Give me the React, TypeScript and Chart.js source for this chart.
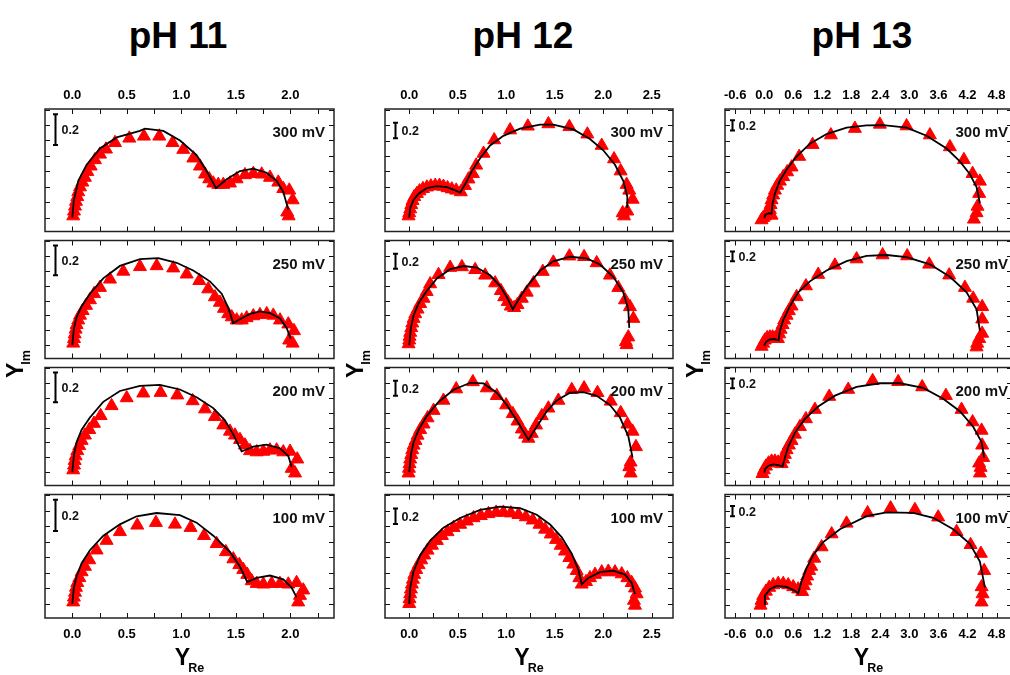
import React, { useEffect, useRef } from 'react';
import { Chart, registerables } from 'chart.js';

Chart.register(...registerables);

type Pt = [number, number];

// ---------------- DATA ----------------
const potentials = ['300 mV', '250 mV', '200 mV', '100 mV'];
const titles = ['pH 11', 'pH 12', 'pH 13'];

const xTicksPH11 = [0, 0.25, 0.5, 0.75, 1, 1.25, 1.5, 1.75, 2, 2.25];
const xLabelsPH11 = [0, 0.5, 1, 1.5, 2];
const xTicksPH12 = [0, 0.25, 0.5, 0.75, 1, 1.25, 1.5, 1.75, 2, 2.25, 2.5];
const xLabelsPH12 = [0, 0.5, 1, 1.5, 2, 2.5];
const xTicksPH13 = [-0.6, -0.3, 0, 0.3, 0.6, 0.9, 1.2, 1.5, 1.8, 2.1, 2.4, 2.7, 3.0, 3.3, 3.6, 3.9, 4.2, 4.5, 4.8, 5.1];
const xLabelsPH13 = [-0.6, 0, 0.6, 1.2, 1.8, 2.4, 3.0, 3.6, 4.2, 4.8];
const yTicksPH11 = [0, 0.1, 0.2, 0.3, 0.4, 0.5, 0.6, 0.7];
const yTicksPH12 = [0, 0.2, 0.4, 0.6, 0.8, 1.0, 1.2, 1.4];
const yTicksPH13 = [0, 0.3, 0.6, 0.9, 1.2, 1.5, 1.8, 2.1];
const scaleBar = 0.2;

// pH 11
const ph11_300_fit: Pt[] = [[0,0],[0.015,0.114],[0.055,0.239],[0.132,0.343],[0.254,0.448],[0.407,0.52],[0.62,0.562],[0.667,0.577],[0.835,0.562],[0.988,0.5],[1.14,0.406],[1.232,0.302],[1.318,0.191],[1.416,0.249],[1.538,0.302],[1.66,0.318],[1.782,0.291],[1.874,0.239],[1.935,0.166],[1.981,0.052]];
const ph11_300_meas: Pt[] = [[0.009,0.01],[0.016,0.041],[0.025,0.073],[0.034,0.104],[0.046,0.135],[0.055,0.166],[0.071,0.198],[0.092,0.229],[0.116,0.26],[0.138,0.298],[0.169,0.333],[0.208,0.374],[0.254,0.41],[0.309,0.443],[0.392,0.485],[0.523,0.514],[0.657,0.527],[0.798,0.527],[0.92,0.485],[1.018,0.441],[1.11,0.385],[1.171,0.333],[1.217,0.281],[1.256,0.25],[1.293,0.223],[1.339,0.214],[1.385,0.214],[1.446,0.223],[1.507,0.25],[1.584,0.277],[1.66,0.285],[1.737,0.281],[1.813,0.26],[1.889,0.229],[1.935,0.187],[1.99,0.177],[2.021,0.114],[1.971,0.035],[1.984,0.01]];
const ph11_250_fit: Pt[] = [[0,0],[0.016,0.116],[0.04,0.189],[0.086,0.262],[0.162,0.346],[0.284,0.449],[0.437,0.533],[0.621,0.579],[0.789,0.585],[0.957,0.554],[1.109,0.502],[1.262,0.429],[1.37,0.346],[1.43,0.252],[1.476,0.148],[1.538,0.174],[1.63,0.21],[1.721,0.227],[1.813,0.216],[1.905,0.179],[1.966,0.116],[2.003,0.043]];
const ph11_250_meas: Pt[] = [[0.009,0.012],[0.016,0.043],[0.022,0.074],[0.031,0.106],[0.04,0.137],[0.055,0.168],[0.071,0.2],[0.095,0.231],[0.126,0.266],[0.162,0.304],[0.2,0.345],[0.254,0.387],[0.346,0.443],[0.468,0.496],[0.621,0.527],[0.774,0.533],[0.926,0.518],[1.049,0.477],[1.165,0.433],[1.247,0.377],[1.308,0.324],[1.354,0.287],[1.391,0.246],[1.43,0.21],[1.462,0.189],[1.508,0.168],[1.554,0.168],[1.599,0.183],[1.66,0.196],[1.721,0.204],[1.783,0.21],[1.843,0.2],[1.905,0.168],[1.981,0.141],[2.033,0.096],[1.989,0.033],[2.021,0.012]];
const ph11_200_fit: Pt[] = [[0,0],[0.016,0.118],[0.04,0.202],[0.086,0.285],[0.162,0.368],[0.284,0.473],[0.437,0.546],[0.621,0.581],[0.804,0.587],[0.987,0.556],[1.14,0.504],[1.293,0.431],[1.4,0.348],[1.476,0.254],[1.553,0.139],[1.66,0.171],[1.782,0.185],[1.904,0.16],[1.981,0.108],[2.012,0.035]];
const ph11_200_meas: Pt[] = [[0.009,0.014],[0.016,0.046],[0.022,0.077],[0.031,0.108],[0.046,0.143],[0.064,0.177],[0.086,0.212],[0.116,0.248],[0.156,0.285],[0.199,0.327],[0.26,0.379],[0.361,0.446],[0.499,0.499],[0.651,0.531],[0.81,0.535],[0.963,0.518],[1.104,0.479],[1.217,0.424],[1.308,0.373],[1.385,0.316],[1.446,0.274],[1.492,0.248],[1.538,0.218],[1.584,0.181],[1.63,0.143],[1.691,0.135],[1.752,0.139],[1.813,0.148],[1.874,0.148],[1.935,0.135],[1.997,0.139],[2.063,0.087],[2.012,0.024],[2.043,-0.007]];
const ph11_100_fit: Pt[] = [[0,0],[0.015,0.106],[0.04,0.179],[0.086,0.262],[0.162,0.346],[0.285,0.439],[0.437,0.512],[0.59,0.564],[0.773,0.585],[0.987,0.571],[1.14,0.523],[1.293,0.439],[1.446,0.335],[1.537,0.241],[1.605,0.141],[1.69,0.168],[1.813,0.183],[1.935,0.158],[2.011,0.106],[2.057,0.043]];
const ph11_100_meas: Pt[] = [[0.009,0.012],[0.015,0.043],[0.025,0.074],[0.034,0.106],[0.046,0.137],[0.065,0.168],[0.086,0.206],[0.116,0.241],[0.156,0.283],[0.223,0.346],[0.315,0.408],[0.437,0.464],[0.596,0.506],[0.767,0.523],[0.942,0.512],[1.085,0.491],[1.208,0.439],[1.324,0.387],[1.409,0.335],[1.477,0.289],[1.532,0.252],[1.568,0.221],[1.605,0.189],[1.645,0.148],[1.691,0.131],[1.752,0.127],[1.828,0.131],[1.904,0.131],[1.981,0.127],[2.057,0.137],[2.118,0.089],[2.088,0.054],[2.072,0.012]];

// pH 12
const ph12_300_fit: Pt[] = [[0,0],[0.01,0.124],[0.044,0.229],[0.096,0.311],[0.182,0.383],[0.285,0.408],[0.388,0.395],[0.474,0.354],[0.525,0.324],[0.577,0.436],[0.646,0.604],[0.731,0.77],[0.834,0.936],[0.971,1.061],[1.143,1.154],[1.349,1.208],[1.486,1.208],[1.692,1.145],[1.864,1.02],[2.001,0.874],[2.122,0.686],[2.207,0.479],[2.249,0.27],[2.249,0.124]];
const ph12_300_meas: Pt[] = [[-0.007,0.02],[0,0.061],[0.01,0.111],[0.021,0.166],[0.034,0.22],[0.052,0.27],[0.079,0.311],[0.106,0.345],[0.141,0.374],[0.182,0.395],[0.223,0.408],[0.268,0.416],[0.312,0.416],[0.353,0.404],[0.395,0.386],[0.439,0.37],[0.484,0.354],[0.532,0.333],[0.575,0.415],[0.611,0.499],[0.656,0.57],[0.69,0.679],[0.766,0.833],[0.876,1.008],[1.04,1.136],[1.223,1.186],[1.435,1.216],[1.651,1.179],[1.837,1.083],[1.985,0.936],[2.112,0.761],[2.18,0.604],[2.242,0.429],[2.269,0.354],[2.304,0.236],[2.201,0.061],[2.249,0.083],[2.215,0.02]];
const ph12_250_fit: Pt[] = [[0,0],[0.017,0.233],[0.045,0.399],[0.096,0.566],[0.182,0.733],[0.285,0.899],[0.422,1.024],[0.559,1.066],[0.697,1.045],[0.834,0.941],[0.937,0.795],[1.006,0.649],[1.068,0.483],[1.143,0.649],[1.229,0.816],[1.349,1.004],[1.486,1.129],[1.658,1.191],[1.83,1.17],[1.967,1.086],[2.104,0.92],[2.207,0.711],[2.259,0.483],[2.269,0.233]];
const ph12_250_meas: Pt[] = [[-0.007,0.016],[0,0.066],[0.003,0.116],[0.01,0.17],[0.021,0.233],[0.031,0.295],[0.045,0.358],[0.062,0.42],[0.086,0.483],[0.113,0.558],[0.148,0.629],[0.18,0.72],[0.216,0.824],[0.302,0.949],[0.422,1.045],[0.543,1.054],[0.68,1.016],[0.783,0.941],[0.886,0.836],[0.945,0.733],[0.979,0.649],[1.016,0.586],[1.047,0.524],[1.082,0.504],[1.116,0.545],[1.161,0.629],[1.212,0.711],[1.281,0.836],[1.377,0.991],[1.486,1.116],[1.651,1.199],[1.803,1.191],[1.933,1.108],[2.07,0.941],[2.156,0.774],[2.225,0.608],[2.276,0.516],[2.311,0.358],[2.259,0.108],[2.235,0.045],[2.242,0.004]];
const ph12_200_fit: Pt[] = [[0,0],[0.017,0.236],[0.045,0.404],[0.096,0.57],[0.182,0.758],[0.302,0.945],[0.457,1.111],[0.628,1.204],[0.766,1.195],[0.903,1.07],[1.006,0.904],[1.109,0.695],[1.229,0.436],[1.315,0.611],[1.418,0.82],[1.521,0.966],[1.658,1.07],[1.796,1.079],[1.933,1.029],[2.07,0.904],[2.173,0.736],[2.259,0.486],[2.303,0.195]];
const ph12_200_meas: Pt[] = [[-0.007,-0.014],[-0.003,0.049],[0.003,0.111],[0.01,0.174],[0.021,0.236],[0.031,0.299],[0.045,0.361],[0.065,0.424],[0.086,0.495],[0.113,0.57],[0.148,0.645],[0.189,0.729],[0.251,0.829],[0.353,0.966],[0.484,1.12],[0.656,1.216],[0.8,1.133],[0.903,1.029],[0.999,0.904],[1.068,0.786],[1.116,0.686],[1.161,0.579],[1.195,0.508],[1.229,0.454],[1.264,0.52],[1.308,0.633],[1.367,0.758],[1.435,0.861],[1.538,0.966],[1.676,1.111],[1.803,1.133],[1.941,1.07],[2.078,0.954],[2.181,0.799],[2.25,0.645],[2.303,0.549],[2.338,0.341],[2.283,0.133],[2.269,0.07],[2.283,-0.014]];
const ph12_100_fit: Pt[] = [[0,0],[0.01,0.211],[0.044,0.42],[0.113,0.629],[0.216,0.816],[0.353,0.983],[0.525,1.108],[0.731,1.211],[0.937,1.254],[1.143,1.233],[1.315,1.149],[1.452,1.024],[1.573,0.858],[1.676,0.649],[1.744,0.441],[1.779,0.254],[1.847,0.336],[1.967,0.411],[2.104,0.429],[2.225,0.379],[2.293,0.274],[2.328,0.129]];
const ph12_100_meas: Pt[] = [[0,0.004],[0.003,0.066],[0.01,0.129],[0.017,0.191],[0.027,0.254],[0.038,0.316],[0.052,0.379],[0.072,0.441],[0.096,0.504],[0.124,0.566],[0.155,0.629],[0.189,0.691],[0.234,0.754],[0.285,0.816],[0.337,0.879],[0.395,0.929],[0.457,0.983],[0.525,1.024],[0.594,1.066],[0.663,1.108],[0.738,1.136],[0.817,1.161],[0.896,1.179],[0.971,1.179],[1.048,1.17],[1.126,1.149],[1.202,1.12],[1.274,1.079],[1.343,1.024],[1.401,0.961],[1.459,0.899],[1.514,0.829],[1.562,0.754],[1.607,0.679],[1.651,0.595],[1.692,0.511],[1.727,0.429],[1.754,0.336],[1.779,0.254],[1.823,0.286],[1.864,0.336],[1.916,0.379],[1.985,0.411],[2.053,0.42],[2.122,0.411],[2.191,0.386],[2.249,0.336],[2.294,0.274],[2.328,0.204],[2.345,0.129],[2.317,0.045],[2.328,-0.018]];

// pH 13
const ph13_300_fit: Pt[] = [[0,0],[0.021,0.064],[0.083,0.09],[0.153,0.09],[0.174,0.289],[0.221,0.476],[0.324,0.727],[0.463,0.945],[0.669,1.196],[0.944,1.446],[1.289,1.633],[1.702,1.758],[2.116,1.802],[2.459,1.808],[2.942,1.758],[3.355,1.601],[3.769,1.352],[4.043,1.102],[4.25,0.851],[4.388,0.602],[4.457,0.289]];
const ph13_300_meas: Pt[] = [[-0.055,-0.036],[-0.02,0.008],[0.014,0.039],[0.062,0.071],[0.118,0.071],[0.153,0.053],[0.118,0.165],[0.132,0.259],[0.153,0.353],[0.186,0.446],[0.221,0.54],[0.269,0.634],[0.324,0.714],[0.393,0.802],[0.475,0.896],[0.566,0.99],[0.723,1.196],[1.0,1.427],[1.378,1.614],[1.874,1.74],[2.39,1.821],[2.942,1.789],[3.424,1.614],[3.837,1.383],[4.126,1.133],[4.306,0.864],[4.457,0.714],[4.442,0.476],[4.408,0.227],[4.388,0.101],[4.333,-0.023]];
const ph13_250_fit: Pt[] = [[0,0],[0.035,0.071],[0.103,0.12],[0.2,0.133],[0.298,0.109],[0.324,0.296],[0.393,0.514],[0.531,0.795],[0.703,1.076],[0.944,1.296],[1.289,1.515],[1.702,1.702],[2.116,1.808],[2.529,1.827],[2.942,1.783],[3.424,1.639],[3.837,1.389],[4.182,1.076],[4.388,0.733],[4.457,0.296]];
const ph13_250_meas: Pt[] = [[-0.054,-0.017],[-0.021,0.045],[0.014,0.108],[0.062,0.158],[0.118,0.171],[0.174,0.171],[0.227,0.152],[0.283,0.139],[0.31,0.233],[0.339,0.326],[0.38,0.42],[0.413,0.514],[0.463,0.608],[0.51,0.701],[0.566,0.795],[0.669,0.983],[0.862,1.202],[1.116,1.433],[1.461,1.62],[1.909,1.746],[2.446,1.827],[2.955,1.808],[3.409,1.639],[3.822,1.421],[4.147,1.17],[4.318,0.952],[4.504,0.783],[4.504,0.533],[4.504,0.246],[4.442,0.139],[4.401,0.045],[4.388,-0.03]];
const ph13_200_fit: Pt[] = [[0,0],[0.021,0.077],[0.09,0.139],[0.186,0.164],[0.289,0.152],[0.38,0.127],[0.428,0.302],[0.496,0.521],[0.634,0.802],[0.841,1.083],[1.116,1.333],[1.461,1.552],[1.909,1.727],[2.39,1.802],[2.804,1.802],[3.285,1.708],[3.698,1.489],[4.043,1.239],[4.318,0.926],[4.492,0.615],[4.545,0.302]];
const ph13_200_meas: Pt[] = [[-0.034,-0.023],[-0.006,0.052],[0.035,0.127],[0.09,0.189],[0.153,0.227],[0.221,0.227],[0.289,0.208],[0.359,0.177],[0.393,0.27],[0.428,0.364],[0.463,0.458],[0.51,0.552],[0.566,0.645],[0.634,0.771],[0.738,0.926],[0.862,1.083],[1.048,1.271],[1.343,1.534],[1.736,1.676],[2.24,1.852],[2.769,1.833],[3.264,1.727],[3.754,1.552],[4.078,1.271],[4.306,1.02],[4.492,0.851],[4.504,0.552],[4.525,0.302],[4.442,0.189],[4.471,0.102],[4.457,-0.011]];
const ph13_100_fit: Pt[] = [[0,0],[0.014,0.171],[0.118,0.296],[0.256,0.358],[0.463,0.339],[0.634,0.264],[0.702,0.214],[0.773,0.452],[0.876,0.701],[1.012,0.952],[1.219,1.202],[1.564,1.451],[2.116,1.702],[2.529,1.777],[3.079,1.764],[3.492,1.671],[3.905,1.451],[4.25,1.17],[4.457,0.827],[4.56,0.327]];
const ph13_100_meas: Pt[] = [[-0.075,-0.017],[-0.055,0.077],[-0.02,0.171],[0.035,0.252],[0.103,0.327],[0.186,0.377],[0.289,0.402],[0.393,0.402],[0.496,0.377],[0.599,0.339],[0.702,0.296],[0.785,0.246],[0.82,0.358],[0.855,0.452],[0.888,0.546],[0.93,0.652],[0.971,0.733],[1.033,0.889],[1.186,1.108],[1.393,1.358],[1.702,1.564],[2.136,1.764],[2.612,1.858],[3.114,1.827],[3.595,1.683],[3.975,1.402],[4.264,1.151],[4.477,0.983],[4.545,0.652],[4.492,0.339],[4.512,0.202],[4.492,0.045]];

// ---------------- LAYOUT ----------------
const FONT = '"Liberation Sans", Arial, Helvetica, sans-serif';
const ROW_TOPS = [109, 236, 363, 490];
const ROW_BOTTOMS = [236, 363, 490, 618];
const TICK = 5;

interface ColSpec {
  title: string;
  titleX: number;
  left: number;
  right: number;
  xMin: number;
  xMax: number;
  yMin: number;
  yMax: number;
  xTicks: number[];
  xLabels: number[];
  yTicks: number[];
  barX: number;
  barY0: number;
  labelInset: number;
  fits: Pt[][];
  meas: Pt[][];
}

const columns: ColSpec[] = [
  {
    title: titles[0], titleX: 178, left: 45, right: 334,
    xMin: -0.25, xMax: 2.4, yMin: -0.09, yMax: 0.704,
    xTicks: xTicksPH11, xLabels: xLabelsPH11, yTicks: yTicksPH11,
    barX: -0.16, barY0: 0.47, labelInset: 9,
    fits: [ph11_300_fit, ph11_250_fit, ph11_200_fit, ph11_100_fit],
    meas: [ph11_300_meas, ph11_250_meas, ph11_200_meas, ph11_100_meas],
  },
  {
    title: titles[1], titleX: 523, left: 385, right: 673,
    xMin: -0.25, xMax: 2.72, yMin: -0.18, yMax: 1.41,
    xTicks: xTicksPH12, xLabels: xLabelsPH12, yTicks: yTicksPH12,
    barX: -0.147, barY0: 1.03, labelInset: 10,
    fits: [ph12_300_fit, ph12_250_fit, ph12_200_fit, ph12_100_fit],
    meas: [ph12_300_meas, ph12_250_meas, ph12_200_meas, ph12_100_meas],
  },
  {
    title: titles[2], titleX: 862, left: 725, right: 1012,
    xMin: -0.81, xMax: 5.12, yMin: -0.26, yMax: 2.12,
    xTicks: xTicksPH13, xLabels: xLabelsPH13, yTicks: yTicksPH13,
    barX: -0.66, barY0: 1.7, labelInset: 4,
    fits: [ph13_300_fit, ph13_250_fit, ph13_200_fit, ph13_100_fit],
    meas: [ph13_300_meas, ph13_250_meas, ph13_200_meas, ph13_100_meas],
  },
];

function Panel({ spec, row }: { spec: ColSpec; row: number }) {
  const ref = useRef<HTMLCanvasElement | null>(null);
  const top = ROW_TOPS[row];
  const bottom = ROW_BOTTOMS[row];
  const isTop = row === 0;
  const isBottom = row === ROW_TOPS.length - 1;
  const mTop = isTop ? 30 : 4;
  const mBot = isBottom ? 34 : 4;
  const mSide = 20;
  const cw = spec.right - spec.left + 2 * mSide;
  const ch = bottom - top + mTop + mBot;

  useEffect(() => {
    const canvas = ref.current;
    if (!canvas) return;
    const labelCb = (v: any) => {
      const n = Number(v);
      return spec.xLabels.some((l) => Math.abs(l - n) < 1e-6) ? n.toFixed(1) : '';
    };
    const setTicks = (s: any) => {
      s.ticks = spec.xTicks.map((v) => ({ value: v }));
    };
    const tickFont = { family: FONT, size: 13, weight: 'bold' as const };

    const xAxis: any = {
      type: 'linear', position: 'bottom', min: spec.xMin, max: spec.xMax, display: isBottom,
      afterBuildTicks: setTicks,
      grid: { display: false, drawTicks: false }, border: { display: false },
      ticks: { autoSkip: false, maxRotation: 0, minRotation: 0, padding: 9, color: '#000', font: tickFont, callback: labelCb },
    };
    if (isBottom) xAxis.afterFit = (s: any) => { s.height = 30; };
    const x2Axis: any = {
      type: 'linear', position: 'top', min: spec.xMin, max: spec.xMax, display: isTop,
      afterBuildTicks: setTicks,
      grid: { display: false, drawTicks: false }, border: { display: false },
      ticks: { autoSkip: false, maxRotation: 0, minRotation: 0, padding: 6, color: '#000', font: tickFont, callback: labelCb },
    };
    if (isTop) x2Axis.afterFit = (s: any) => { s.height = 30; };

    const overlay = {
      id: 'panelOverlay',
      afterDraw(c: any) {
        const ctx: CanvasRenderingContext2D = c.ctx;
        const a = c.chartArea;
        const sx = c.scales.x;
        const sy = c.scales.y;
        ctx.save();
        ctx.strokeStyle = '#111';
        ctx.lineWidth = 1;
        ctx.beginPath();
        spec.xTicks.forEach((v) => {
          const p = Math.round(sx.getPixelForValue(v)) + 0.5;
          ctx.moveTo(p, a.top); ctx.lineTo(p, a.top + TICK);
          ctx.moveTo(p, a.bottom); ctx.lineTo(p, a.bottom - TICK);
        });
        spec.yTicks.forEach((v) => {
          const p = Math.round(sy.getPixelForValue(v)) + 0.5;
          ctx.moveTo(a.left, p); ctx.lineTo(a.left + TICK, p);
          ctx.moveTo(a.right, p); ctx.lineTo(a.right - TICK, p);
        });
        ctx.stroke();
        ctx.lineWidth = 1.5;
        ctx.strokeStyle = '#222';
        ctx.strokeRect(a.left, a.top, a.right - a.left, a.bottom - a.top);

        // scale bar
        const bx = Math.round(sx.getPixelForValue(spec.barX)) + 0.5;
        const b0 = sy.getPixelForValue(spec.barY0);
        const b1 = sy.getPixelForValue(spec.barY0 + scaleBar);
        ctx.strokeStyle = '#000';
        ctx.lineWidth = 2;
        ctx.beginPath();
        ctx.moveTo(bx, b0); ctx.lineTo(bx, b1);
        ctx.moveTo(bx - 2.5, b0); ctx.lineTo(bx + 2.5, b0);
        ctx.moveTo(bx - 2.5, b1); ctx.lineTo(bx + 2.5, b1);
        ctx.stroke();
        ctx.fillStyle = '#111';
        ctx.font = `bold 12.5px ${FONT}`;
        ctx.textAlign = 'left';
        ctx.textBaseline = 'middle';
        ctx.fillText(scaleBar.toFixed(1), bx + 6, (b0 + b1) / 2 + 1);

        ctx.font = `bold 15px ${FONT}`;
        ctx.textAlign = 'right';
        ctx.textBaseline = 'alphabetic';
        ctx.fillText(potentials[row], a.right - spec.labelInset, a.top + 28);
        ctx.restore();
      },
    };

    const chart = new Chart(canvas, {
      type: 'scatter',
      data: {
        datasets: [
          {
            label: 'fit',
            data: spec.fits[row].map(([x, y]) => ({ x, y })),
            showLine: true,
            borderColor: '#000',
            backgroundColor: '#000',
            borderWidth: 1.8,
            pointRadius: 0,
            pointHoverRadius: 0,
            order: 0,
            xAxisID: 'x',
            yAxisID: 'y',
          } as any,
          {
            label: 'measured',
            data: spec.meas[row].map(([x, y]) => ({ x, y })),
            pointStyle: 'triangle',
            pointRadius: 7.5,
            pointHoverRadius: 7.5,
            backgroundColor: '#ff0000',
            borderColor: '#ff0000',
            borderWidth: 1,
            order: 1,
            xAxisID: 'x',
            yAxisID: 'y',
          } as any,
        ],
      },
      options: {
        animation: false,
        responsive: false,
        maintainAspectRatio: false,
        devicePixelRatio: 1,
        events: [],
        layout: { padding: { left: mSide, right: mSide, top: isTop ? 0 : mTop, bottom: isBottom ? 4 : mBot } },
        plugins: { legend: { display: false }, tooltip: { enabled: false }, title: { display: false } },
        scales: {
          x: xAxis,
          x2: x2Axis,
          y: { type: 'linear', min: spec.yMin, max: spec.yMax, display: false },
        },
      } as any,
      plugins: [overlay as any],
    });
    return () => chart.destroy();
  }, []);

  return (
    <canvas
      ref={ref}
      width={cw}
      height={ch}
      style={{ position: 'absolute', left: spec.left - mSide, top: top - mTop, width: cw, height: ch }}
    />
  );
}

export default function App() {
  const midY = (ROW_TOPS[0] + ROW_BOTTOMS[ROW_BOTTOMS.length - 1]) / 2;
  return (
    <div
      style={{
        position: 'fixed', left: 0, top: 0, width: 1010, height: 675, overflow: 'hidden',
        background: '#fff', fontFamily: FONT, color: '#000',
      }}
    >
      {columns.map((spec, ci) => (
        <React.Fragment key={ci}>
          <div
            style={{
              position: 'absolute', left: spec.titleX - 100, top: 17, width: 200, textAlign: 'center',
              fontSize: 37, lineHeight: '37px', fontWeight: 'bold', whiteSpace: 'nowrap',
            }}
          >
            {spec.title}
          </div>
          {ROW_TOPS.map((_, r) => (
            <Panel key={r} spec={spec} row={r} />
          ))}
          <div
            style={{
              position: 'absolute', left: (spec.left + spec.right) / 2 - 60, top: 646, width: 120,
              textAlign: 'center', fontWeight: 'bold', lineHeight: '22px', whiteSpace: 'nowrap',
            }}
          >
            <span style={{ fontSize: 23 }}>Y</span>
            <span style={{ fontSize: 12.5, position: 'relative', top: 7, marginLeft: -2 }}>Re</span>
          </div>
          <div
            style={{
              position: 'absolute', left: spec.left - 28, top: midY, width: 0, height: 0,
            }}
          >
            <div
              style={{
                position: 'absolute', left: 0, top: 0, transform: 'translate(-50%, -50%) rotate(-90deg)',
                fontWeight: 'bold', lineHeight: '22px', whiteSpace: 'nowrap',
              }}
            >
              <span style={{ fontSize: 23 }}>Y</span>
              <span style={{ fontSize: 12.5, position: 'relative', top: 7, marginLeft: -2 }}>Im</span>
            </div>
          </div>
        </React.Fragment>
      ))}
    </div>
  );
}
